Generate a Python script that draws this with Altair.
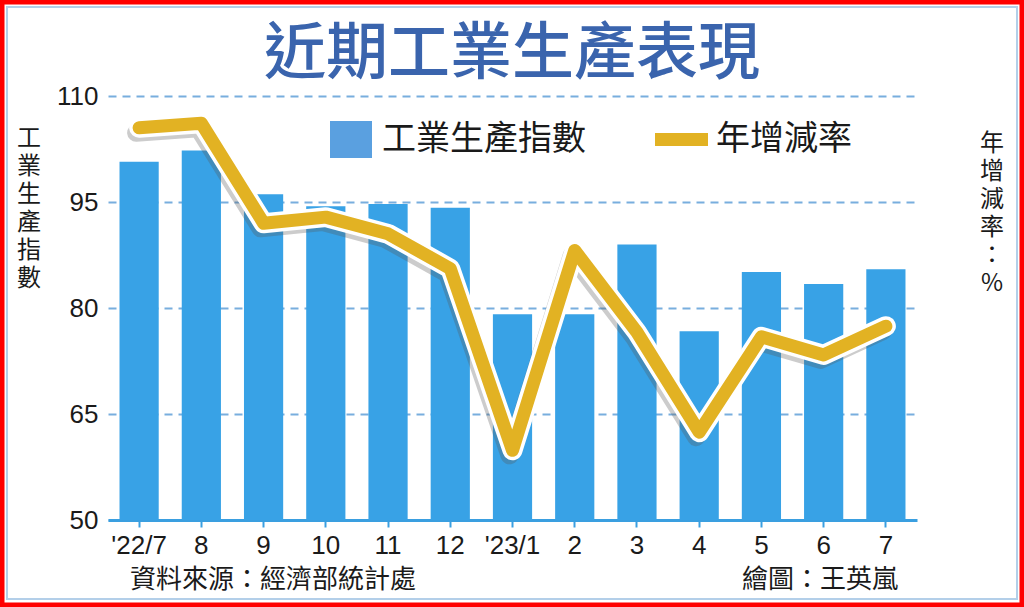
import altair as alt
import pandas as pd

# ---- data ----
months = ["'22/7", "8", "9", "10", "11", "12", "'23/1", "2", "3", "4", "5", "6", "7"]
index_vals = [100.7, 102.3, 96.1, 94.4, 94.7, 94.2, 79.1, 79.1, 89.0, 76.7, 85.1, 83.4, 85.5]
yoy_vals = [-2.1, -1.8, -8.4, -8.0, -9.1, -11.4, -23.4, -10.2, -15.6, -22.2, -15.9, -17.1, -15.2]
left_ticks = [50, 65, 80, 95, 110]
right_ticks = [-28, -21, -14, -7, 0]

title_text = "近期工業生產表現"
legend_bar_text = "工業生產指數"
legend_line_text = "年增減率"
left_title = ["工", "業", "生", "產", "指", "數"]
right_title = ["年", "增", "減", "率", "：", "%"]
source_text = "資料來源：經濟部統計處"
credit_text = "繪圖：王英嵐"

df = pd.DataFrame({"month": months, "index": index_vals, "yoy": yoy_vals})
one = pd.DataFrame({"k": [0]})

W, H = 809, 424
PL, PT, PR, PB = 108, 96, 107, 87

CJK = "Noto Sans CJK TC"
NUM = "Liberation Sans"
BAR = "#38a2e6"
GOLD = "#e2b223"
INK = "#1a1a1a"

xenc = alt.X(
    "month:N", sort=months,
    scale=alt.Scale(paddingInner=0.37, paddingOuter=0.185),
    axis=alt.Axis(title=None, labelAngle=0, labelFont=NUM, labelFontSize=26,
                  labelColor=INK, domainColor="#3a9fe0", domainWidth=3,
                  tickColor="#3a9fe0", tickWidth=2, tickSize=7, labelPadding=5,
                  grid=False),
)

bars = alt.Chart(df).mark_bar(color=BAR).encode(
    x=xenc,
    y=alt.Y("index:Q", scale=alt.Scale(domain=[50, 110], zero=False, nice=False),
            axis=alt.Axis(values=left_ticks, title=None, orient="left", grid=True,
                          gridDash=[8, 6], gridColor="#78aede", gridWidth=2,
                          domain=False, ticks=False, labelFont=NUM, labelFontSize=26,
                          labelPadding=10, labelColor=INK)),
    y2=alt.datum(50),
)

yscale = alt.Scale(domain=[-28, 0], nice=False, zero=False)
base_line = alt.Chart(df)
shadow = base_line.mark_line(color="#555555", opacity=0.3, strokeWidth=18,
                             strokeJoin="round", strokeCap="round",
                             xOffset=-3, yOffset=5).encode(
    x=alt.X("month:N", sort=months), y=alt.Y("yoy:Q", scale=yscale, axis=None))
white = base_line.mark_line(color="white", strokeWidth=20,
                            strokeJoin="round", strokeCap="round").encode(
    x=alt.X("month:N", sort=months), y=alt.Y("yoy:Q", scale=yscale, axis=None))
gold = base_line.mark_line(color=GOLD, strokeWidth=13,
                           strokeJoin="round", strokeCap="round").encode(
    x=alt.X("month:N", sort=months),
    y=alt.Y("yoy:Q", scale=yscale,
            axis=alt.Axis(values=right_ticks, title=None, orient="right", grid=False,
                          domain=False, ticks=False, labelFont=NUM, labelFontSize=26,
                          labelPadding=10, labelColor=INK)))
lines = alt.layer(shadow, white, gold)

# ---- decorations ----
frame_red = alt.Chart(one).mark_rect(filled=False, stroke="#ff0000", strokeWidth=5).encode(
    x=alt.value(-PL + 2), x2=alt.value(W + PR - 2), y=alt.value(-PT + 2), y2=alt.value(H + PB - 2))
frame_blue = alt.Chart(one).mark_rect(filled=False, stroke="#b3cfe9", strokeWidth=2).encode(
    x=alt.value(-PL + 7), x2=alt.value(W + PR - 7), y=alt.value(-PT + 7), y2=alt.value(H + PB - 8))

title = alt.Chart(one).mark_text(font=CJK, fontSize=62, fontWeight=500, color="#3a64ad",
                                 align="center", baseline="middle").encode(
    x=alt.value(512 - PL), y=alt.value(55 - PT), text=alt.value(title_text))

leg_sq = alt.Chart(one).mark_rect(color="#5aa0e0").encode(
    x=alt.value(330 - PL), x2=alt.value(372 - PL), y=alt.value(121 - PT), y2=alt.value(158 - PT))
leg_sq_t = alt.Chart(one).mark_text(font=CJK, fontSize=34, color=INK, align="left",
                                    baseline="middle").encode(
    x=alt.value(382 - PL), y=alt.value(140 - PT), text=alt.value(legend_bar_text))
leg_ln = alt.Chart(one).mark_rect(color=GOLD).encode(
    x=alt.value(655 - PL), x2=alt.value(708 - PL), y=alt.value(133 - PT), y2=alt.value(146 - PT))
leg_ln_t = alt.Chart(one).mark_text(font=CJK, fontSize=34, color=INK, align="left",
                                    baseline="middle").encode(
    x=alt.value(716 - PL), y=alt.value(140 - PT), text=alt.value(legend_line_text))

ltitle = alt.Chart(one).mark_text(font=CJK, fontSize=24, color=INK, align="center",
                                  baseline="top", lineHeight=28).encode(
    x=alt.value(29 - PL), y=alt.value(127 - PT), text=alt.value(left_title))
rtitle = alt.Chart(one).mark_text(font=CJK, fontSize=24, color=INK, align="center",
                                  baseline="top", lineHeight=28).encode(
    x=alt.value(992 - PL), y=alt.value(132 - PT), text=alt.value(right_title))

src = alt.Chart(one).mark_text(font=CJK, fontSize=26, color=INK, align="left",
                               baseline="middle").encode(
    x=alt.value(130 - PL), y=alt.value(580 - PT), text=alt.value(source_text))
cred = alt.Chart(one).mark_text(font=CJK, fontSize=26, color=INK, align="right",
                                baseline="middle").encode(
    x=alt.value(898 - PL), y=alt.value(580 - PT), text=alt.value(credit_text))

chart = alt.layer(
    frame_red, frame_blue, bars, lines, title, leg_sq, leg_sq_t, leg_ln, leg_ln_t,
    ltitle, rtitle, src, cred,
).resolve_scale(y="independent").properties(
    width=W, height=H,
    padding={"left": PL, "top": PT, "right": PR, "bottom": PB},
    autosize=alt.AutoSizeParams(type="none"),
    background="white",
).configure_view(stroke=None)

chart.save("out.html", embed_options={"renderer": "svg", "actions": False})
